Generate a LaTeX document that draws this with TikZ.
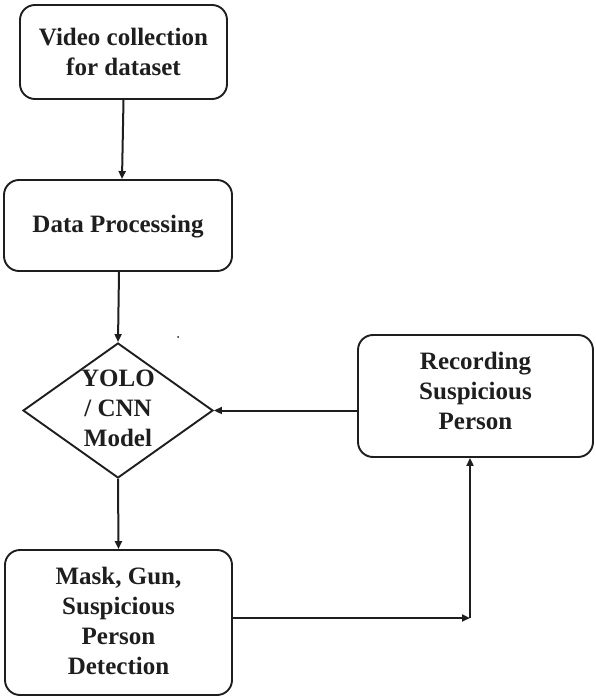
\documentclass[tikz,border=0pt]{standalone}
\usepackage{fontspec}
\setmainfont{Liberation Serif}
\usetikzlibrary{shapes.geometric,arrows.meta}
\definecolor{ink}{HTML}{1E1E1E}
\begin{document}
\begin{tikzpicture}[x=1pt,y=-1pt,
  box/.style={draw=ink, line width=1.9pt, rounded corners=15pt, inner sep=0pt},
  txt/.style={text=ink, font=\bfseries\fontsize{25}{30}\selectfont, align=center},
  conn/.style={draw=ink, line width=2pt},
  arr/.style={conn, -{Triangle[length=8pt,width=7pt]}}]
\useasboundingbox (0,0) rectangle (595,700);
\node[box, minimum width=207pt, minimum height=94pt] (b1) at (123.5,52) {};
\node[txt] (t1) at (b1.center) {Video collection\\for dataset};
\node[box, minimum width=228pt, minimum height=91pt] (b2) at (118,225.5) {};
\node[txt] (t2) at ([yshift=-1pt]b2.center) {Data Processing};
\node[diamond, draw=ink, line width=1.9pt, minimum width=190pt, minimum height=135pt, inner sep=0pt] (d) at (118,410.5) {};
\node[txt] (td) at ([yshift=2pt]d.center) {YOLO\\/ CNN\\Model};
\node[box, minimum width=235pt, minimum height=122pt] (b3) at (475.5,396) {};
\node[txt] (t3) at ([yshift=5pt]b3.center) {Recording\\Suspicious\\Person};
\node[box, minimum width=227pt, minimum height=145pt] (b4) at (118.5,622.5) {};
\node[txt] (t4) at ([yshift=2pt]b4.center) {Mask, Gun,\\Suspicious\\Person\\Detection};
\coordinate (corner) at (470,618);
\coordinate (dot) at (178,337);
\fill[ink] (dot) circle (1pt);
\draw[arr] (b1.south) -- ([xshift=4pt]b2.north);
\draw[arr] ([xshift=1pt]b2.south) -- (d.north);
\draw[arr] (d.south) -- (b4.north);
\draw[arr] (b3.west |- d.east) -- (d.east);
\draw[arr] (b4.east |- corner) -- (corner);
\draw[arr] (corner) -- (corner |- b3.south);
\end{tikzpicture}
\end{document}
